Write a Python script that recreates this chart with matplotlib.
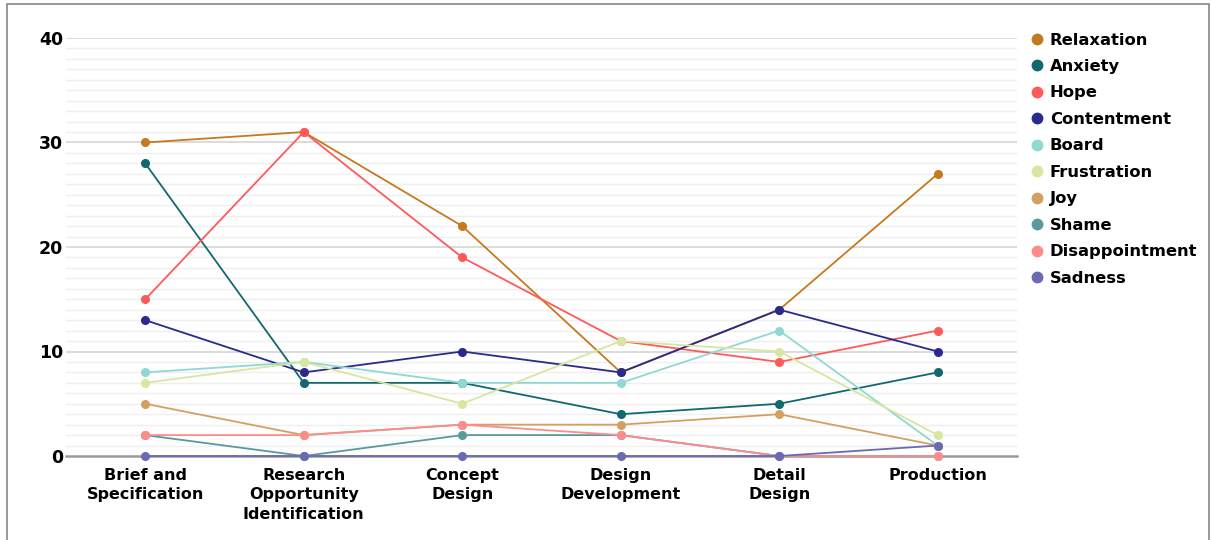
import matplotlib.pyplot as plt
from matplotlib.lines import Line2D
from matplotlib.patches import Rectangle

stages = ['Brief and\nSpecification', 'Research\nOpportunity\nIdentification',
          'Concept\nDesign', 'Design\nDevelopment', 'Detail\nDesign', 'Production']

relaxation = [30, 31, 22, 8, 14, 27]
anxiety = [28, 7, 7, 4, 5, 8]
hope = [15, 31, 19, 11, 9, 12]
contentment = [13, 8, 10, 8, 14, 10]
board = [8, 9, 7, 7, 12, 1]
frustration = [7, 9, 5, 11, 10, 2]
joy = [5, 2, 3, 3, 4, 1]
shame = [2, 0, 2, 2, 0, 0]
disappointment = [2, 2, 3, 2, 0, 0]
sadness = [0, 0, 0, 0, 0, 1]

names = ['Relaxation', 'Anxiety', 'Hope', 'Contentment', 'Board',
         'Frustration', 'Joy', 'Shame', 'Disappointment', 'Sadness']
series = [relaxation, anxiety, hope, contentment, board,
          frustration, joy, shame, disappointment, sadness]
colors = ['#c47a1e', '#11686f', '#ff5a5a', '#2a2a8c', '#8ed9d2',
          '#d7e6a0', '#d4a062', '#5a9a9e', '#ff8c8c', '#6a6ab4']

plt.rcParams['font.family'] = 'DejaVu Sans'

fig = plt.figure(figsize=(12.11, 5.40), dpi=100)
ax = fig.add_axes([66 / 1211, 84 / 540, (1017 - 66) / 1211, (456 - 38) / 540])

# grey frame around the whole figure (bottom edge falls off the canvas)
fig.patches.append(Rectangle((7 / 1211, -0.05), 1202 / 1211, 1.05 - 4 / 540,
                             transform=fig.transFigure, fill=False,
                             edgecolor='#888888', linewidth=1.2))

x = list(range(len(stages)))
for vals, c in zip(series, colors):
    ax.plot(x, vals, color=c, linewidth=1.3, marker='o', markersize=5.5,
            zorder=3, clip_on=False)

ax.set_xlim(-0.5, 5.5)
ax.set_ylim(0, 40)

# light minor grid every unit, stronger every 10
for v in range(1, 40):
    if v % 10:
        ax.axhline(v, color='#efefef', linewidth=1.0, zorder=0)
for v in [10, 20, 30, 40]:
    ax.axhline(v, color='#dcdcdc', linewidth=1.4, zorder=1)

ax.set_yticks([0, 10, 20, 30, 40])
ax.set_xticks(x)
ax.set_xticklabels(stages, fontsize=11.5, fontweight='bold', linespacing=1.38)
for lbl in ax.get_yticklabels():
    lbl.set_fontsize(12.5)
    lbl.set_fontweight('bold')
ax.tick_params(axis='both', length=0)
ax.tick_params(axis='y', pad=2)
ax.tick_params(axis='x', pad=8.5)

for s in ['top', 'right', 'left']:
    ax.spines[s].set_visible(False)
ax.spines['bottom'].set_color('#999999')
ax.spines['bottom'].set_linewidth(1.8)
ax.spines['bottom'].set_zorder(2)

handles = [Line2D([], [], linestyle='none', marker='o', markersize=7.5,
                  color=c) for c in colors]
fig.legend(handles, names, loc='upper left',
           bbox_to_anchor=(1026 / 1211, 1 - 26 / 540), frameon=False,
           prop={'size': 11.8, 'weight': 'bold'}, handlelength=0.6,
           handletextpad=0.45, labelspacing=0.70, borderaxespad=0)

fig.savefig('out.png', dpi=100, facecolor='white')
